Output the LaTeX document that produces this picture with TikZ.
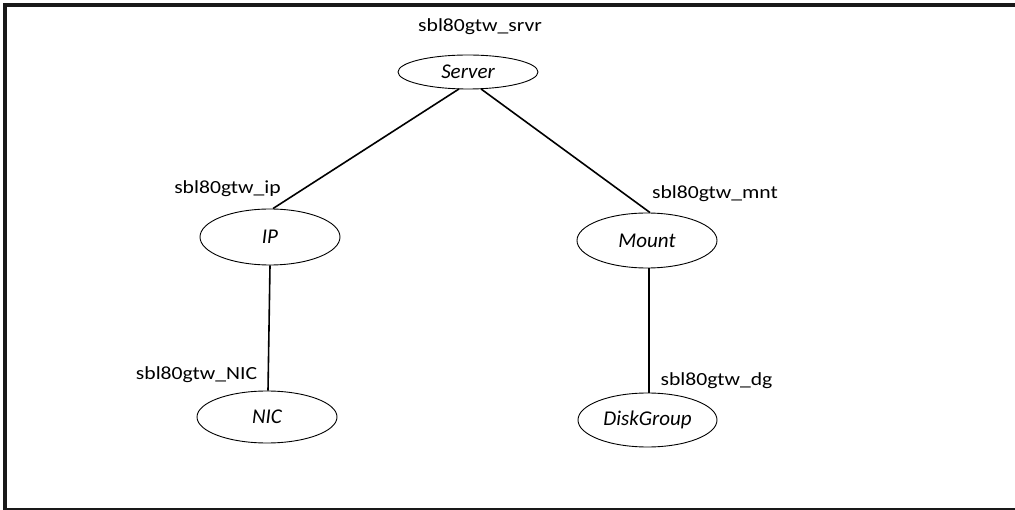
\documentclass[tikz,border=0pt]{standalone}
\usepackage{fontspec}
\setmainfont{Carlito}[FakeStretch=1.17]
\newfontfamily\resfont{Carlito}
\usetikzlibrary{calc}
\usetikzlibrary{shapes.geometric}
\tikzset{
  res/.style={draw=black, line width=0.9pt, ellipse, inner sep=0pt, font=\resfont\fontsize{21}{22}\selectfont\itshape},
  lbl/.style={anchor=base, inner sep=0pt, font=\fontsize{18.5}{20}\selectfont},
  link/.style={draw=black, line width=1.6pt}
}
\begin{document}
\begin{tikzpicture}[x=1pt,y=-1pt]
\useasboundingbox (0,0) rectangle (1015,510);
\fill[white] (0,0) rectangle (1015,510);
\draw[line width=4pt, color=black!90] (1015,5) -- (5,5) -- (5,510);
\draw[line width=2.5pt, color=black!90] (3,509.2) -- (1015,509.2);

\node[res, minimum width=140pt, minimum height=34pt] (srv) at (468,72) {Server};
\node[res, minimum width=140pt, minimum height=56pt] (ip) at (270,237) {IP};
\node[res, minimum width=140pt, minimum height=52pt] (nic) at (267,417) {NIC};
\node[res, minimum width=140pt, minimum height=55pt] (mnt) at (647,240.5) {Mount};
\node[res, minimum width=139pt, minimum height=54pt] (dg) at (647.5,420) {DiskGroup};

\node[lbl] (lsrv) at (480,32) {sbl80gtw\_srvr};
\node[lbl] (lip) at (227.5,194) {sbl80gtw\_ip};
\node[lbl] (lnic) at (196.5,380) {sbl80gtw\_NIC};
\node[lbl] (lmnt) at (715,199) {sbl80gtw\_mnt};
\node[lbl] (ldg) at (716.5,386) {sbl80gtw\_dg};

\draw[link] ($(srv.south)+(-9,-0.5)$) -- ($(ip.north)+(3,0)$);
\draw[link] ($(srv.south)+(13,-0.5)$) -- ($(mnt.north)+(3,0)$);
\draw[link] (ip.south) -- ($(nic.north)+(1,0)$);
\draw[link] ($(mnt.south)+(2,0)$) -- ($(dg.north)+(1.5,0)$);
\end{tikzpicture}
\end{document}
